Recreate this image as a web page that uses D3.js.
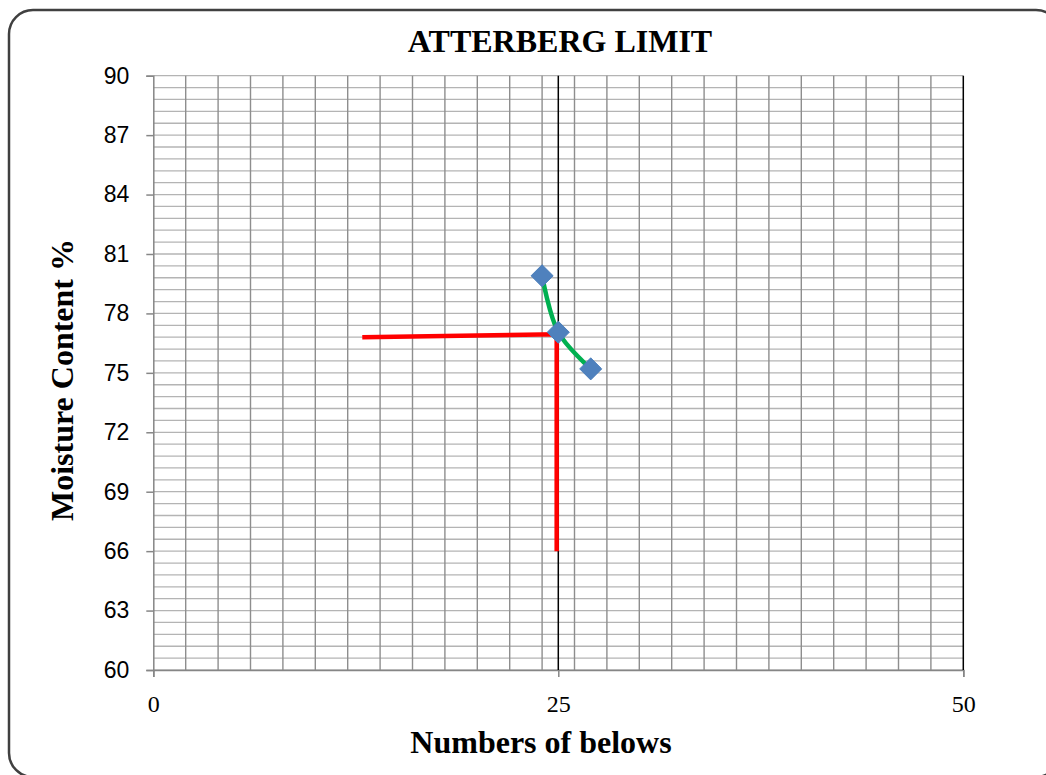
<!DOCTYPE html>
<html>
<head>
<meta charset="utf-8">
<script src="https://cdn.jsdelivr.net/npm/d3@7"></script>
<style>
  body { margin: 0; background: #fff; }
</style>
</head>
<body>
<div id="chart"></div>
<script>
// blows / moisture content readings
var blows = [24, 25, 27];
var moisture = [79.9, 77.05, 75.2];

// red construction lines reading the liquid limit at 25 blows
var guideX = [12.9, 24.9, 24.9];
var guideY = [76.8, 76.95, 66];

// black vertical reference lines
var refX = [25, 50];

var xTicks = [0, 25, 50];
var yTicks = [60, 63, 66, 69, 72, 75, 78, 81, 84, 87, 90];

var W = 1046, H = 775;
var margin = {left: 153.3, right: 1046 - 963.3, top: 75.7, bottom: 775 - 670};
var width = W - margin.left - margin.right;
var height = H - margin.top - margin.bottom;

var root = d3.select("#chart")
    .append("svg")
        .attr("width", W)
        .attr("height", H);

// rounded frame
root.append("rect")
    .attr("x", 9)
    .attr("y", 10)
    .attr("width", 1051)
    .attr("height", 767)
    .attr("rx", 24)
    .attr("ry", 24)
    .style("fill", "none")
    .style("stroke", "#404040")
    .style("stroke-width", 2.5);

var svg = root.append("g")
    .attr("transform", "translate(" + margin.left + "," + margin.top + ")");

var x = d3.scaleLinear().domain([0, 50]).range([0, width]);
var y = d3.scaleLinear().domain([60, 90]).range([height, 0]);

// horizontal minor grid every 0.6
var hGrid = d3.range(0, 51).map(function(i) { return 60 + i * 0.6; });
svg.selectAll(".hgrid")
    .data(hGrid)
    .enter()
    .append("line")
    .attr("x1", 0)
    .attr("x2", width)
    .attr("y1", function(d) { return y(d); })
    .attr("y2", function(d) { return y(d); })
    .style("stroke", "#b4b4b4")
    .style("stroke-width", 1.3);

// vertical grid every 2
var vGrid = d3.range(2, 50, 2);
svg.selectAll(".vgrid")
    .data(vGrid)
    .enter()
    .append("line")
    .attr("x1", function(d) { return x(d); })
    .attr("x2", function(d) { return x(d); })
    .attr("y1", 0)
    .attr("y2", height)
    .style("stroke", "#8e8e8e")
    .style("stroke-width", 1.4);

// axes
var yAxis = svg.append("g")
    .call(d3.axisLeft(y).tickValues(yTicks).tickSize(7).tickPadding(17));
yAxis.select(".domain").style("stroke", "#868686").style("stroke-width", 1.5);
yAxis.selectAll(".tick line").style("stroke", "#868686").style("stroke-width", 1.5);
yAxis.selectAll("text")
    .attr("font-family", "'Liberation Sans', Arial, sans-serif")
    .attr("font-size", "23px")
    .attr("fill", "#000");

var xAxis = svg.append("g")
    .attr("transform", "translate(0," + height + ")")
    .call(d3.axisBottom(x).tickValues(xTicks).tickSize(7).tickPadding(18));
xAxis.select(".domain").style("stroke", "#868686").style("stroke-width", 1.5);
xAxis.selectAll(".tick line").style("stroke", "#868686").style("stroke-width", 1.5);
xAxis.selectAll("text")
    .attr("font-family", "'Liberation Serif', 'Times New Roman', serif")
    .attr("font-size", "24px")
    .attr("fill", "#000");

// black reference lines
svg.selectAll(".ref")
    .data(refX)
    .enter()
    .append("line")
    .attr("x1", function(d) { return x(d); })
    .attr("x2", function(d) { return x(d); })
    .attr("y1", 0)
    .attr("y2", height)
    .style("stroke", "#000")
    .style("stroke-width", 1.5);

// red guide lines
var guide = guideX.map(function(d, i) { return [d, guideY[i]]; });
svg.append("path")
    .datum(guide)
    .attr("d", d3.line()
        .x(function(d) { return x(d[0]); })
        .y(function(d) { return y(d[1]); }))
    .style("fill", "none")
    .style("stroke", "#ff0000")
    .style("stroke-width", 4.5);

// smoothed flow curve
var pts = blows.map(function(d, i) { return [d, moisture[i]]; });
svg.append("path")
    .datum(pts)
    .attr("d", d3.line()
        .curve(d3.curveCatmullRom.alpha(0.5))
        .x(function(d) { return x(d[0]); })
        .y(function(d) { return y(d[1]); }))
    .style("fill", "none")
    .style("stroke", "#00b050")
    .style("stroke-width", 4.5);

// diamond markers
svg.selectAll(".dot")
    .data(pts)
    .enter()
    .append("path")
    .attr("d", d3.symbol().type(d3.symbolDiamond2).size(310))
    .attr("transform", function(d) { return "translate(" + x(d[0]) + "," + y(d[1]) + ")"; })
    .style("fill", "#4f81bd")
    .style("stroke", "#4a7ebb")
    .style("stroke-width", 1);

// titles
root.append("text")
    .attr("x", 560)
    .attr("y", 52)
    .style("text-anchor", "middle")
    .attr("font-family", "'Liberation Serif', 'Times New Roman', serif")
    .attr("font-weight", "bold")
    .attr("font-size", "32px")
    .text("ATTERBERG LIMIT");

root.append("text")
    .attr("x", 541)
    .attr("y", 753)
    .style("text-anchor", "middle")
    .attr("font-family", "'Liberation Serif', 'Times New Roman', serif")
    .attr("font-weight", "bold")
    .attr("font-size", "32px")
    .text("Numbers of belows");

root.append("text")
    .attr("transform", "translate(73," + 380 + ") rotate(-90)")
    .style("text-anchor", "middle")
    .attr("font-family", "'Liberation Serif', 'Times New Roman', serif")
    .attr("font-weight", "bold")
    .attr("font-size", "32px")
    .text("Moisture Content  %");
</script>
</body>
</html>
